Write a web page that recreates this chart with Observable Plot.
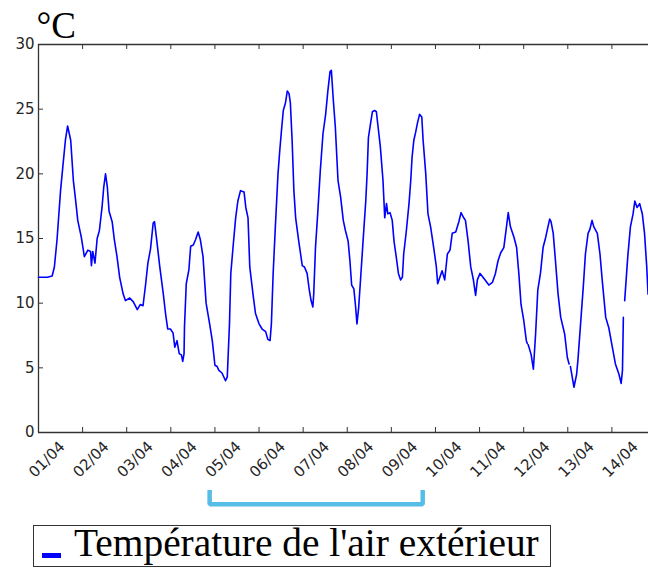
<!DOCTYPE html>
<html>
<head>
<meta charset="utf-8">
<script src="https://cdn.jsdelivr.net/npm/d3@7"></script>
<script src="https://cdn.jsdelivr.net/npm/@observablehq/plot@0.6"></script>
<style>
  body { margin: 0; background: #fff; }
  #wrap { position: relative; width: 648px; height: 569px; overflow: hidden; background: #fff; }
  #chart { position: absolute; left: 0; top: 0; }
  .legend-box { position: absolute; left: 33px; top: 525px; width: 518px; height: 42px; box-sizing: border-box; border: 1px solid #333; }
  .legend-swatch { position: absolute; left: 42px; top: 553px; width: 19px; height: 5px; background: #0000ff; }
  .legend-text { position: absolute; left: 74px; top: 524px; font: 39.4px/1 "Liberation Serif", "Times New Roman", serif; color: #000; white-space: nowrap; }
</style>
</head>
<body>
<div id="wrap">
  <div id="chart"></div>
  <div class="legend-box"></div>
  <div class="legend-swatch"></div>
  <div class="legend-text" id="legend-text"></div>
</div>
<script>
// Outdoor air temperature, time in days since 01/04 00:00
const days = [
  0.00, 0.20, 0.31, 0.36, 0.42, 0.50, 0.55, 0.61, 0.66, 0.73, 0.79, 0.84, 0.89, 0.97,
  1.04, 1.12, 1.18, 1.20, 1.23, 1.28, 1.33, 1.38, 1.44, 1.48, 1.52, 1.56, 1.60, 1.67,
  1.72, 1.78, 1.84, 1.92, 1.97, 2.07, 2.15, 2.24, 2.31, 2.37, 2.43, 2.48, 2.54, 2.60,
  2.63, 2.68, 2.75, 2.83, 2.88, 2.93, 2.99, 3.05, 3.09, 3.14, 3.19, 3.24, 3.27, 3.30,
  3.31, 3.35, 3.41, 3.45, 3.51, 3.56, 3.62, 3.67, 3.73, 3.80, 3.88, 3.94, 4.00, 4.05,
  4.09, 4.16, 4.24, 4.28, 4.33, 4.36, 4.41, 4.47, 4.52, 4.58, 4.66, 4.70, 4.75, 4.79,
  4.87, 4.92, 5.00, 5.07, 5.15, 5.20, 5.25, 5.28, 5.32, 5.37, 5.43, 5.47, 5.51, 5.55,
  5.60, 5.64, 5.68, 5.71, 5.75, 5.79, 5.83, 5.90, 5.98, 6.03, 6.09, 6.14, 6.18, 6.22,
  6.24, 6.28, 6.33, 6.39, 6.45, 6.51, 6.56, 6.61, 6.64, 6.68, 6.73, 6.79, 6.85, 6.91,
  6.96, 7.02, 7.06, 7.10, 7.15, 7.19, 7.22, 7.26, 7.32, 7.38, 7.42, 7.45, 7.48, 7.52,
  7.57, 7.62, 7.66, 7.70, 7.75, 7.81, 7.85, 7.89, 7.92, 7.97, 8.02, 8.06, 8.11, 8.16,
  8.21, 8.25, 8.28, 8.34, 8.40, 8.44, 8.47, 8.51, 8.55, 8.59, 8.64, 8.69, 8.72, 8.78,
  8.83, 8.89, 8.96, 9.02, 9.05, 9.10, 9.15, 9.21, 9.27, 9.33, 9.38, 9.46, 9.53, 9.58,
  9.64, 9.68, 9.74, 9.80, 9.86, 9.91, 9.95, 10.01, 10.10, 10.21, 10.29, 10.36, 10.42, 10.48,
  10.55, 10.61, 10.65, 10.70, 10.78, 10.84, 10.89, 10.94, 11.00, 11.06, 11.08, 11.09, 11.10, 11.12,
  11.17, 11.22, 11.27, 11.32, 11.38, 11.44, 11.50, 11.55, 11.59, 11.62, 11.67, 11.72, 11.78, 11.84,
  11.93, 11.99, 12.03, 12.045, 12.06, 12.10, 12.14, 12.20, 12.23, 12.29, 12.35, 12.40, 12.46, 12.50,
  12.55, 12.59, 12.67, 12.73, 12.78, 12.86, 12.93, 13.01, 13.08, 13.16, 13.21, 13.24, 13.26, 13.275,
  13.29, 13.36, 13.42, 13.48, 13.52, 13.57, 13.63, 13.69, 13.74, 13.79, 13.82
];
const temps = [
  12.0, 12.0, 12.1, 12.8, 14.9, 18.7, 20.5, 22.6, 23.7, 22.6, 19.5, 18.0, 16.4, 15.1,
  13.6, 14.1, 14.0, 12.9, 14.0, 13.1, 15.0, 15.6, 17.4, 19.0, 20.0, 19.0, 17.1, 16.3,
  14.9, 13.6, 12.0, 10.7, 10.2, 10.4, 10.1, 9.5, 9.9, 9.8, 11.5, 13.1, 14.2, 16.2,
  16.3, 14.9, 12.8, 10.7, 9.2, 8.0, 8.0, 7.7, 6.6, 7.1, 6.1, 6.0, 5.5, 6.1,
  8.2, 11.5, 12.6, 14.4, 14.5, 14.9, 15.5, 14.9, 13.6, 10.0, 8.4, 7.1, 5.2, 5.1,
  4.8, 4.6, 4.0, 4.3, 8.4, 12.3, 14.3, 16.6, 17.9, 18.7, 18.6, 17.4, 16.6, 12.8,
  10.5, 9.2, 8.4, 8.0, 7.8, 7.2, 7.1, 8.4, 12.3, 15.9, 20.0, 21.8, 23.4, 24.9,
  25.5, 26.4, 26.2, 25.5, 22.6, 18.7, 16.6, 14.8, 12.9, 12.8, 12.3, 11.0, 10.2, 9.7,
  10.7, 14.3, 16.9, 20.3, 23.1, 24.6, 26.4, 27.9, 28.0, 25.9, 23.6, 19.5, 18.2, 16.4,
  15.6, 14.8, 13.3, 11.4, 11.1, 9.7, 8.4, 9.7, 12.8, 15.9, 17.9, 20.0, 22.8, 23.7,
  24.8, 24.9, 24.8, 23.6, 22.1, 19.5, 16.6, 17.7, 16.9, 17.0, 16.4, 14.8, 13.6, 12.3,
  11.8, 12.0, 13.8, 15.6, 17.7, 19.5, 21.3, 22.6, 23.2, 23.9, 24.6, 24.4, 22.6, 20.0,
  16.9, 15.9, 14.3, 12.8, 11.5, 12.0, 12.5, 11.8, 13.8, 14.1, 15.4, 15.5, 16.3, 17.0,
  16.6, 16.4, 14.8, 12.8, 11.8, 10.6, 11.8, 12.3, 11.9, 11.4, 11.6, 12.3, 13.3, 13.9,
  14.3, 15.9, 17.0, 15.9, 15.1, 14.3, 12.3, 9.9, 8.7, 7.1, 6.9, null, 6.8, 6.6,
  6.0, 4.9, 7.6, 11.0, 12.3, 14.3, 15.1, 15.9, 16.5, 16.3, 15.4, 13.3, 10.7, 8.9,
  7.6, 5.8, 5.3, null, 5.1, 4.3, 3.5, 4.5, 5.6, 8.4, 11.2, 13.8, 15.4, 15.7,
  16.4, 15.9, 15.4, 13.8, 11.8, 8.9, 8.1, 6.6, 5.3, 4.5, 3.8, 4.8, 8.9, null,
  10.2, 13.6, 15.9, 16.9, 17.9, 17.4, 17.7, 16.9, 15.4, 12.8, 10.7
];

// Axis ticks and labels
const tickDays = [0, 1, 2, 3, 4, 5, 6, 7, 8, 9, 10, 11, 12, 13];
const dayLabels = ["01/04", "02/04", "03/04", "04/04", "05/04", "06/04", "07/04",
                   "08/04", "09/04", "10/04", "11/04", "12/04", "13/04", "14/04"];
const tempTicks = [0, 5, 10, 15, 20, 25, 30];
const unitLabel = "°C";
const seriesName = "Température de l'air extérieur";

// Highlighted period (days), drawn as a bracket under the date axis
const periodStart = 3.88;
const periodEnd = 8.71;

const series = days.map((t, i) => ({t, v: temps[i]}));
const bracket = [
  {t: periodStart, v: -4.45},
  {t: periodStart, v: -5.55},
  {t: periodEnd, v: -5.55},
  {t: periodEnd, v: -4.45}
];

const axisColor = "#333";
const labelColor = "#262626";

const chart = Plot.plot({
  width: 648,
  height: 512,
  marginTop: 44,
  marginLeft: 38,
  marginRight: 0,
  marginBottom: 80,
  style: {fontFamily: "'DejaVu Sans', sans-serif", background: "white", overflow: "visible"},
  x: {domain: [0, 13.83], axis: null},
  y: {domain: [0, 30], axis: null},
  marks: [
    // frame: bottom, top and left spines
    Plot.ruleY([0, 30], {stroke: axisColor, strokeWidth: 1.3}),
    Plot.ruleX([0], {stroke: axisColor, strokeWidth: 1.3}),
    // inward tick marks
    Plot.tickX(tickDays, {x: d => d, insetTop: 383, stroke: axisColor, strokeWidth: 1}),
    Plot.tickX(tickDays, {x: d => d, insetBottom: 383, stroke: axisColor, strokeWidth: 1}),
    Plot.tickY(tempTicks, {y: d => d, insetRight: 605, stroke: axisColor, strokeWidth: 1}),
    // tick labels
    Plot.text(tempTicks, {
      x: 0, y: d => d, text: d => String(d),
      textAnchor: "end", dx: -4, fontSize: 15, fill: labelColor
    }),
    Plot.text(tickDays, {
      x: d => d, y: 0, text: (d, i) => dayLabels[i],
      rotate: -45, textAnchor: "middle", lineAnchor: "middle",
      dx: 8.5, dy: 27, fontSize: 15, fill: labelColor
    }),
    // unit label
    Plot.text([unitLabel], {
      frameAnchor: "top-left", text: d => d,
      textAnchor: "start", lineAnchor: "bottom", dx: -2, dy: -7,
      fontSize: 37, fontFamily: "'Liberation Serif', serif", fill: "#000"
    }),
    // temperature series
    Plot.line(series, {x: "t", y: "v", stroke: "#0000ff", strokeWidth: 1.6, strokeLinejoin: "round"}),
    // period bracket
    Plot.line(bracket, {x: "t", y: "v", stroke: "#56bde6", strokeWidth: 4.5, strokeLinejoin: "miter", strokeLinecap: "butt"})
  ]
});

document.getElementById("chart").append(chart);
document.getElementById("legend-text").textContent = seriesName;
</script>
</body>
</html>
